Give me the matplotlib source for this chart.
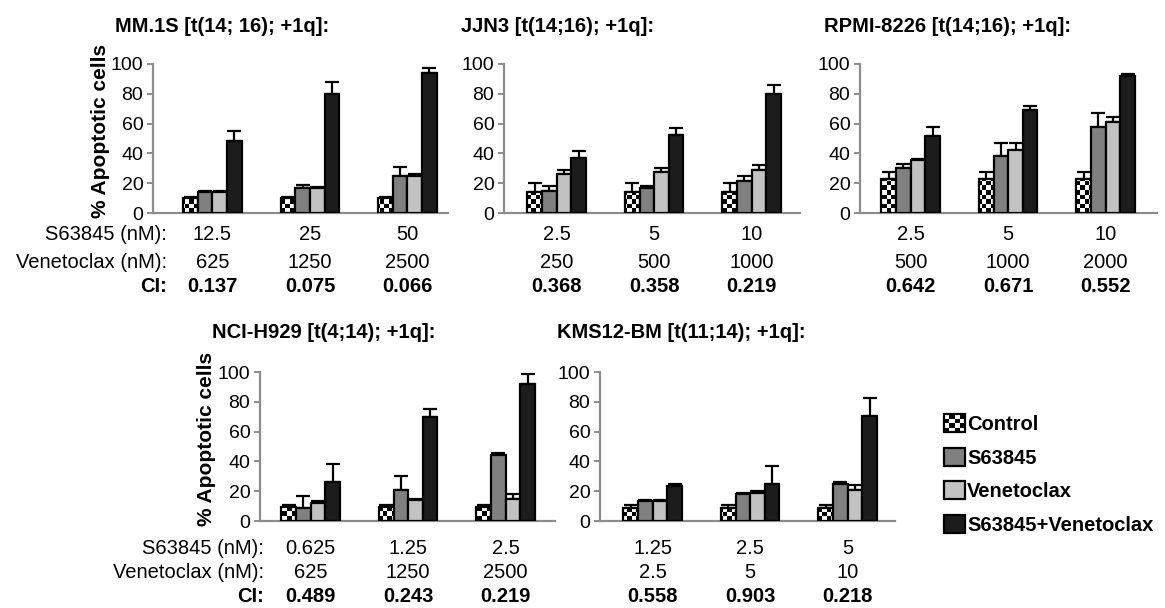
import numpy as np
import matplotlib
matplotlib.use("Agg")
import matplotlib.pyplot as plt
from matplotlib.patches import Patch, Rectangle
from matplotlib.legend_handler import HandlerBase
import matplotlib.transforms as mtransforms

plt.rcParams['font.family'] = ['Liberation Sans', 'DejaVu Sans']

W, H = 1165, 608

conditions = ['Control', 'S63845', 'Venetoclax', 'S63845+Venetoclax']
colors = ['white', '#808080', '#c2c2c2', '#1c1c1c']

# MM.1S
mm1s_s638 = ['12.5', '25', '50']
mm1s_ven = ['625', '1250', '2500']
mm1s_ci = ['0.137', '0.075', '0.066']
mm1s_mean = [[10, 10, 10], [14, 17, 25], [14, 17, 25], [48, 80, 94]]
mm1s_err = [[1, 1, 1], [0.5, 1.5, 6], [1, 0.5, 1.5], [7, 8, 3]]

# JJN3
jjn3_s638 = ['2.5', '5', '10']
jjn3_ven = ['250', '500', '1000']
jjn3_ci = ['0.368', '0.358', '0.219']
jjn3_mean = [[14, 14, 14], [15, 16.5, 21.5], [26, 27.5, 29], [37, 52.5, 80]]
jjn3_err = [[6, 6, 6], [3, 1.5, 3], [3, 3, 3.5], [4.5, 4.5, 6]]

# RPMI-8226
rpmi_s638 = ['2.5', '5', '10']
rpmi_ven = ['500', '1000', '2000']
rpmi_ci = ['0.642', '0.671', '0.552']
rpmi_mean = [[23, 23, 23], [30, 38, 58], [35.5, 42.5, 61], [52, 69, 92]]
rpmi_err = [[4.5, 4.5, 4.5], [3, 9, 9], [1, 4.5, 3.5], [6, 2.5, 1.5]]

# NCI-H929
nci_s638 = ['0.625', '1.25', '2.5']
nci_ven = ['625', '1250', '2500']
nci_ci = ['0.489', '0.243', '0.219']
nci_mean = [[9.5, 9.5, 9.5], [9, 21, 44.5], [12, 14, 14.5], [26, 69.5, 92]]
nci_err = [[1.5, 1.5, 1.5], [7.5, 9.5, 1.3], [1.4, 1, 3.8], [12, 6, 6.5]]

# KMS12-BM
kms_s638 = ['1.25', '2.5', '5']
kms_ven = ['2.5', '5', '10']
kms_ci = ['0.558', '0.903', '0.218']
kms_mean = [[9, 9, 9], [13.5, 18, 24.5], [13.5, 19, 21], [23.5, 24.5, 70.5]]
kms_err = [[1.5, 1.5, 1.5], [0.3, 1, 1.5], [0.3, 1, 3.4], [1, 12.3, 12.3]]

panels = [
    # title, s63845, venetoclax, CI, means, errs, (left, top, width, bottom) px, xmin, title pos, labels
    ('MM.1S [t(14; 16); +1q]:', mm1s_s638, mm1s_ven, mm1s_ci, mm1s_mean, mm1s_err,
     (153, 64, 295, 213), -0.61, (115, 26), True),
    ('JJN3 [t(14;16); +1q]:', jjn3_s638, jjn3_ven, jjn3_ci, jjn3_mean, jjn3_err,
     (504, 64, 296, 213), -0.54, (461, 26), False),
    ('RPMI-8226 [t(14;16); +1q]:', rpmi_s638, rpmi_ven, rpmi_ci, rpmi_mean, rpmi_err,
     (860, 64, 297, 213), -0.52, (824, 26), False),
    ('NCI-H929 [t(4;14); +1q]:', nci_s638, nci_ven, nci_ci, nci_mean, nci_err,
     (260, 372, 295, 521), -0.52, (212, 332), True),
    ('KMS12-BM [t(11;14); +1q]:', kms_s638, kms_ven, kms_ci, kms_mean, kms_err,
     (600, 372, 295, 521), -0.54, (557, 332), False),
]

fig = plt.figure(figsize=(W / 100, H / 100), dpi=100)

bw = 0.15
offsets = [-1.5 * bw, -0.5 * bw, 0.5 * bw, 1.5 * bw]

for title, s638, ven, ci, means, errs, (l, t, w, b), xmin, (tx, ty), labels in panels:
    ax = fig.add_axes([l / W, 1 - b / H, w / W, (b - t) / H])
    xmax = xmin + w / 97.5
    x = np.arange(3)
    for k in range(4):
        xs = x + offsets[k]
        ax.errorbar(xs, means[k], yerr=[np.zeros(3), errs[k]], fmt='none',
                    ecolor='black', elinewidth=1.6, capsize=5, capthick=1.6, zorder=1)
        if k == 0:
            bars = ax.bar(xs, means[k], width=bw, facecolor='none', edgecolor='black',
                          linewidth=1.6, zorder=3)
            nr, nc = int((b - t) / 4.5), int(w / 4.5)
            checker = np.indices((nr, nc)).sum(0) % 2
            for p in bars:
                im = ax.imshow(checker, cmap='gray', extent=(xmin, xmax, 0, 100),
                               aspect='auto', interpolation='nearest', zorder=2)
                im.set_clip_path(p)
        else:
            ax.bar(xs, means[k], width=bw, color=colors[k], edgecolor='black',
                   linewidth=1.6, zorder=3)
    ax.set_xlim(xmin, xmax)
    ax.set_ylim(0, 100)
    ax.set_yticks(range(0, 101, 20))
    ax.set_xticks([])
    for s in ['top', 'right']:
        ax.spines[s].set_visible(False)
    for s in ['left', 'bottom']:
        ax.spines[s].set_color('#8c8c8c')
        ax.spines[s].set_linewidth(1.6)
    ax.tick_params(axis='y', direction='out', length=4, width=1.4, color='#8c8c8c',
                   labelsize=14, pad=3)

    # rows of doses under the axes, pixels below the zero line
    row_px = [22, 50, 74] if t < 300 else [27, 52, 76]
    row_y = [-r / (b - t) for r in row_px]
    tr = mtransforms.blended_transform_factory(ax.transData, ax.transAxes)
    for i in range(3):
        ax.text(i, row_y[0], s638[i], transform=tr, ha='center', va='center', fontsize=14.5)
        ax.text(i, row_y[1], ven[i], transform=tr, ha='center', va='center', fontsize=14.5)
        ax.text(i, row_y[2], ci[i], transform=tr, ha='center', va='center', fontsize=14.5,
                fontweight='bold')
    fig.text(tx / W, 1 - ty / H, title, ha='left', va='center', fontsize=14.5,
             fontweight='bold')
    if labels:
        lx = 0.047 if t < 300 else 0.014
        ax.text(lx, row_y[0], 'S63845 (nM):', transform=ax.transAxes, ha='right',
                va='center', fontsize=14.5)
        ax.text(lx, row_y[1], 'Venetoclax (nM):', transform=ax.transAxes, ha='right',
                va='center', fontsize=14.5)
        ax.text(lx, row_y[2], 'CI:', transform=ax.transAxes, ha='right',
                va='center', fontsize=14.5, fontweight='bold')
        fig.text((l - 53) / W, 1 - (t + b) / 2 / H + 8 / H, '% Apoptotic cells',
                 rotation=90, ha='center', va='center', fontsize=15, fontweight='bold')


class CheckerHandler(HandlerBase):
    def create_artists(self, legend, orig_handle, xdescent, ydescent, width, height,
                       fontsize, trans):
        arts = [Rectangle((-xdescent, -ydescent), width, height, fc='white', ec='none',
                          transform=trans)]
        n = 4
        cw, ch = width / n, height / n
        for i in range(n):
            for j in range(n):
                if (i + j) % 2 == 0:
                    arts.append(Rectangle((-xdescent + i * cw, -ydescent + j * ch), cw, ch,
                                          fc='black', ec='none', transform=trans))
        arts.append(Rectangle((-xdescent, -ydescent), width, height, fc='none',
                              ec='black', lw=1.6, transform=trans))
        return arts


handles = [Patch(facecolor=c, edgecolor='black', linewidth=1.6) for c in colors]
fig.legend(handles, conditions, loc='upper left', bbox_to_anchor=(944 / W, 1 - 414 / H),
           frameon=False, borderpad=0, borderaxespad=0, handlelength=1.05,
           handleheight=1.0, handletextpad=0.1, labelspacing=0.68,
           prop={'weight': 'bold', 'size': 14.5},
           handler_map={handles[0]: CheckerHandler()})

fig.savefig('out.png', dpi=100)
